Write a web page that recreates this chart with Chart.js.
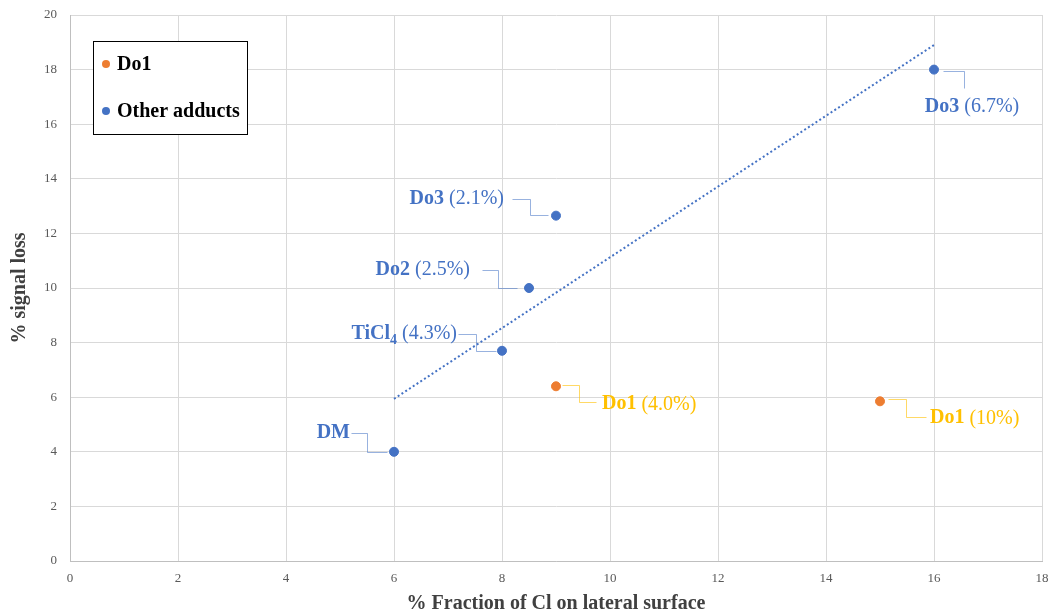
<!DOCTYPE html>
<html>
<head>
<meta charset="utf-8">
<script src="https://cdn.jsdelivr.net/npm/chart.js@4/dist/chart.umd.min.js"></script>
<style>
  html, body { margin: 0; padding: 0; background: #fff; }
  #wrap { width: 1052px; height: 612px; position: relative; }
</style>
</head>
<body>
<div id="wrap"><canvas id="chart" width="1052" height="612"></canvas></div>
<script>
// data
const do1X = [9, 15];
const do1Y = [6.4, 5.85];
const otherX = [6, 8, 8.5, 9, 16];
const otherY = [4, 7.7, 10, 12.65, 18];
const trendX = [6, 16];
const trendY = [5.94, 18.9];
const xTicks = [0, 2, 4, 6, 8, 10, 12, 14, 16, 18];
const yTicks = [0, 2, 4, 6, 8, 10, 12, 14, 16, 18, 20];

const do1Names = ['Do1', 'Do1'];
const do1Pct = ['(4.0%)', '(10%)'];
const otherNames = ['DM', 'TiCl', 'Do2', 'Do3', 'Do3'];
const otherSub = ['', '4', '', '', ''];
const otherPct = ['', '(4.3%)', '(2.5%)', '(2.1%)', '(6.7%)'];

// leader line paths and text anchors, pixel offsets from each point
const do1Callouts = [
  { path: [[6, -1], [23, -1], [23, 16], [40, 16]], tx: 46, ty: 18, align: 'left' },
  { path: [[8, -2], [26, -2], [26, 16], [46, 16]], tx: 50, ty: 17, align: 'left' }
];
const otherCallouts = [
  { path: [[-43, -19], [-27, -19], [-27, 0], [-7, 0]], tx: -44, ty: -19, align: 'right' },
  { path: [[-44, -17], [-26, -17], [-26, 0], [-6, 0]], tx: -45, ty: -17, align: 'right' },
  { path: [[-47, -18], [-31, -18], [-31, 0], [-12, 0]], tx: -59, ty: -18, align: 'right' },
  { path: [[-44, -17], [-26, -17], [-26, -1], [-8, -1]], tx: -52, ty: -17, align: 'right' },
  { path: [[9, 1], [30, 1], [30, 18]], tx: 38, ty: 37, align: 'center' }
];

const ORANGE = '#ED7D31';
const BLUE = '#4472C4';
const GOLD = '#FFC000';
const SERIF = '"Liberation Serif", "Times New Roman", serif';

function pts(xs, ys) {
  return xs.map((x, i) => ({ x: x, y: ys[i] }));
}

function drawCallout(ctx, px, py, c, name, sub, pct, color, lineColor) {
  ctx.save();
  ctx.strokeStyle = lineColor;
  ctx.lineWidth = 1;
  ctx.beginPath();
  c.path.forEach((p, i) => {
    const x = Math.round(px + p[0]) + 0.5, y = Math.round(py + p[1]) + 0.5;
    if (i === 0) ctx.moveTo(x, y); else ctx.lineTo(x, y);
  });
  ctx.stroke();

  const bold = 'bold 20px ' + SERIF;
  const norm = '20px ' + SERIF;
  const subF = 'bold 14px ' + SERIF;
  ctx.font = bold;
  const wName = ctx.measureText(name).width;
  ctx.font = subF;
  const wSub = sub ? ctx.measureText(sub).width : 0;
  ctx.font = norm;
  const wPct = pct ? ctx.measureText(' ' + pct).width : 0;
  const total = wName + wSub + wPct;
  let x = px + c.tx;
  if (c.align === 'right') x -= total;
  else if (c.align === 'center') x -= total / 2;
  const y = py + c.ty;
  ctx.fillStyle = color;
  ctx.textBaseline = 'middle';
  ctx.textAlign = 'left';
  ctx.font = bold;
  ctx.fillText(name, x, y);
  x += wName;
  if (sub) {
    ctx.font = subF;
    ctx.fillText(sub, x, y + 7);
    x += wSub;
  }
  if (pct) {
    ctx.font = norm;
    ctx.fillText(' ' + pct, x, y);
  }
  ctx.restore();
}

const calloutPlugin = {
  id: 'callouts',
  afterDatasetsDraw(chart) {
    const ctx = chart.ctx;
    const xs = chart.scales.x, ys = chart.scales.y;
    do1X.forEach((v, i) => {
      drawCallout(ctx, xs.getPixelForValue(v), ys.getPixelForValue(do1Y[i]),
        do1Callouts[i], do1Names[i], '', do1Pct[i], GOLD, 'rgba(255,192,0,0.6)');
    });
    otherX.forEach((v, i) => {
      drawCallout(ctx, xs.getPixelForValue(v), ys.getPixelForValue(otherY[i]),
        otherCallouts[i], otherNames[i], otherSub[i], otherPct[i], BLUE, 'rgba(68,114,196,0.55)');
    });
  }
};

// boxed legend inside the plot, as in the original
const boxLegend = {
  id: 'boxLegend',
  afterDraw(chart) {
    const ctx = chart.ctx;
    const items = chart.data.datasets.filter(d => d.inLegend);
    ctx.save();
    ctx.fillStyle = '#fff';
    ctx.fillRect(93, 41, 154, 93);
    ctx.strokeStyle = '#000';
    ctx.lineWidth = 1;
    ctx.strokeRect(93.5, 41.5, 154, 93);
    items.forEach((d, i) => {
      const y = 64 + i * 47;
      ctx.fillStyle = d.backgroundColor;
      ctx.beginPath();
      ctx.arc(106, y, 4, 0, Math.PI * 2);
      ctx.fill();
      ctx.fillStyle = '#000';
      ctx.font = 'bold 20px ' + SERIF;
      ctx.textBaseline = 'middle';
      ctx.fillText(d.label, 117, y + 1);
    });
    ctx.restore();
  }
};

new Chart(document.getElementById('chart'), {
  type: 'scatter',
  data: {
    datasets: [
      {
        label: 'Do1', inLegend: true,
        data: pts(do1X, do1Y),
        backgroundColor: ORANGE, borderColor: ORANGE,
        pointRadius: 4.5, pointHoverRadius: 4.5
      },
      {
        label: 'Other adducts', inLegend: true,
        data: pts(otherX, otherY),
        backgroundColor: BLUE, borderColor: BLUE,
        pointRadius: 4.5, pointHoverRadius: 4.5
      },
      {
        label: 'Linear (Other adducts)',
        type: 'line',
        data: pts(trendX, trendY),
        borderColor: BLUE, backgroundColor: BLUE,
        borderWidth: 2, borderDash: [2, 2.5],
        pointRadius: 0, showLine: true, fill: false
      }
    ]
  },
  options: {
    responsive: false,
    animation: false,
    layout: { padding: { left: 0, top: 15, right: 10, bottom: 0 } },
    plugins: { legend: { display: false }, tooltip: { enabled: false } },
    scales: {
      x: {
        type: 'linear', min: 0, max: 18,
        afterBuildTicks: s => { s.ticks = xTicks.map(v => ({ value: v })); },
        afterFit: s => { s.height = 51; s.paddingRight = 0; s.paddingLeft = 0; },
        grid: { color: '#d9d9d9', drawTicks: false },
        border: { color: '#bfbfbf' },
        ticks: { color: '#595959', padding: 10, font: { family: SERIF, size: 13 } },
        title: {
          display: true, text: '% Fraction of Cl on lateral surface', color: '#404040',
          font: { family: SERIF, size: 20, weight: 'bold', lineHeight: 0.8 },
          padding: { top: 0, bottom: 0 }
        }
      },
      y: {
        type: 'linear', min: 0, max: 20,
        afterBuildTicks: s => { s.ticks = yTicks.map(v => ({ value: v })); },
        afterFit: s => { s.width = 70; s.paddingTop = 0; s.paddingBottom = 0; },
        grid: { color: '#d9d9d9', drawTicks: false },
        border: { color: '#bfbfbf' },
        ticks: { color: '#595959', padding: 13, font: { family: SERIF, size: 13 } },
        title: {
          display: true, text: '% signal loss', color: '#404040',
          font: { family: SERIF, size: 20, weight: 'bold', lineHeight: 1 },
          padding: { top: 10, bottom: 0 }
        }
      }
    }
  },
  plugins: [calloutPlugin, boxLegend]
});
</script>
</body>
</html>
